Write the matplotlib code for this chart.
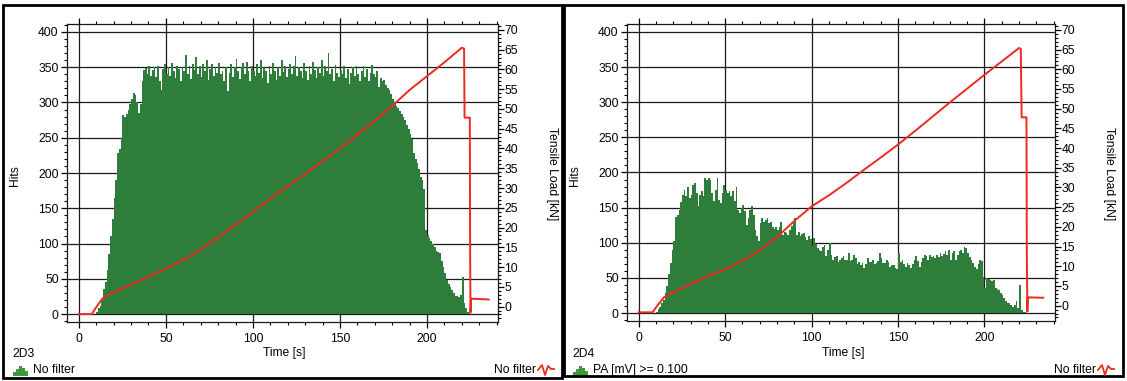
import matplotlib.pyplot as plt
from matplotlib.ticker import MultipleLocator
from matplotlib.patches import Rectangle
from matplotlib.lines import Line2D

plt.rcParams['font.family'] = ['Liberation Sans', 'DejaVu Sans']
plt.rcParams['font.size'] = 8.7

# AE hits per 1 s bin, first bin starts at t = 10 s
hits_start = 10
hits_2d3 = [
    3, 8, 12, 22, 35, 45, 62, 85, 110, 135,
    165, 190, 228, 234, 250, 282, 280, 284, 290, 298,
    305, 313, 310, 300, 285, 298, 330, 346, 349, 340,
    352, 338, 346, 350, 336, 352, 330, 318, 348, 354,
    340, 350, 338, 356, 344, 335, 352, 347, 330, 350,
    345, 368, 340, 352, 334, 355, 346, 365, 340, 352,
    336, 354, 345, 360, 332, 348, 355, 338, 350, 342,
    356, 340, 345, 330, 350, 316, 342, 355, 336, 350,
    362, 344, 333, 350, 356, 340, 358, 345, 330, 352,
    345, 338, 355, 342, 360, 335, 350, 344, 328, 352,
    340, 356, 345, 332, 350, 338, 360, 343, 352, 336,
    348, 355, 340, 352, 366, 338, 350, 344, 335, 356,
    345, 332, 352, 340, 357, 346, 335, 350, 342, 360,
    338, 352, 345, 370, 340, 348, 330, 353, 342, 336,
    346, 340, 352, 335, 348, 326, 342, 350, 338, 352,
    340, 330, 345, 352, 336, 348, 330, 342, 353, 340,
    336, 344, 322, 335, 330, 332, 325, 320, 318, 312,
    305, 300, 295, 292, 288, 284, 280, 275, 268, 262,
    255, 248, 228, 220, 214, 205, 195, 190, 178, 119,
    112, 108, 104, 100, 95, 90, 88, 86, 75, 67,
    58, 48, 42, 39, 34, 30, 25, 26, 24, 27,
    53, 15, 8, 3, 1,
]
hits_2d4 = [
    2, 6, 9, 14, 19, 28, 38, 55, 71, 90,
    102, 137, 140, 147, 158, 168, 175, 166, 180, 164,
    168, 182, 185, 171, 152, 168, 173, 166, 192, 190,
    192, 190, 171, 159, 175, 192, 161, 156, 171, 182,
    175, 171, 173, 166, 173, 160, 180, 147, 142, 150,
    154, 145, 126, 135, 147, 152, 140, 118, 110, 102,
    128, 135, 130, 133, 135, 128, 130, 123, 120, 123,
    118, 122, 130, 111, 116, 114, 111, 118, 124, 128,
    135, 111, 116, 109, 112, 114, 108, 104, 109, 106,
    95, 107, 98, 92, 90, 88, 94, 97, 81, 90,
    100, 83, 76, 80, 81, 73, 76, 78, 81, 76,
    76, 85, 74, 76, 82, 78, 70, 73, 68, 71,
    64, 70, 78, 72, 73, 76, 70, 71, 74, 85,
    78, 71, 71, 76, 72, 66, 68, 69, 64, 62,
    85, 72, 76, 70, 66, 71, 68, 64, 70, 76,
    81, 74, 66, 73, 78, 83, 81, 76, 83, 80,
    81, 78, 83, 80, 85, 81, 84, 88, 82, 90,
    76, 86, 88, 76, 82, 88, 90, 86, 94, 92,
    85, 80, 76, 71, 66, 62, 70, 76, 74, 52,
    36, 50, 48, 47, 46, 47, 36, 34, 33, 28,
    26, 22, 17, 15, 14, 11, 9, 12, 17, 7,
    40, 5, 2, 1,
]

# tensile load curves
load_time_2d3 = [0, 7.5, 9, 12, 14, 20, 30, 40, 50, 60, 70, 80, 90, 100, 110,
                 120, 130, 140, 150, 160, 170, 180, 190, 200, 210, 220, 221.3,
                 221.6, 224.6, 224.8, 225.0, 225.3, 235.5]
load_2d3 = [-1.9, -1.9, -0.8, 1.1, 2.2, 3.6, 5.6, 7.6, 9.6, 11.8, 14.4, 17.5,
            20.7, 24.0, 27.3, 30.5, 33.6, 36.8, 40.0, 43.5, 47.0, 50.8, 54.8,
            58.3, 61.8, 65.5, 65.3, 47.8, 47.8, 13.0, -1.5, 2.0, 1.8]
load_time_2d4 = [0, 8, 10.7, 13, 14.5, 20, 30, 40, 50, 60, 70, 80, 90, 100, 110,
                 120, 130, 140, 150, 160, 170, 180, 190, 200, 210, 220, 221,
                 221.5, 224.3, 224.5, 224.8, 225.1, 234]
load_2d4 = [-1.7, -1.7, 0.0, 1.2, 2.1, 3.4, 5.5, 7.5, 9.2, 11.4, 14.0, 17.4,
            21.5, 25.2, 28.0, 31.1, 34.4, 37.6, 40.9, 44.4, 48.0, 51.6, 55.1,
            58.6, 62.0, 65.4, 65.2, 47.8, 47.8, 13.0, -1.5, 2.1, 2.0]

W, H = 1127, 381
green = '#2e7d3b'
red = '#ec2a1e'


def fx(x):
    return x / W


def fy(y):
    return 1 - y / H


fig = plt.figure(figsize=(W / 100, H / 100), dpi=100)
fig.patch.set_facecolor('white')

panels = [
    # name, filter text, hits, load t, load, plot box px (l, r, t, b), x offset px
    ("2D3", "No filter", hits_2d3, load_time_2d3, load_2d3, (67, 498, 24, 322), 0),
    ("2D4", "PA [mV] >= 0.100", hits_2d4, load_time_2d4, load_2d4, (627, 1055, 24, 321), 560),
]

for name, filt, hits, lt, ld, (l, r, t, b), off in panels:
    ax = fig.add_axes([fx(l), fy(b), fx(r - l), (b - t) / H])
    edges = [hits_start + i for i in range(len(hits) + 1)]
    # one filled step outline, so no seams between the 1 s bins
    ax.stairs(hits, edges, fill=True, color=green, linewidth=0, zorder=2)
    ax.set_xlim(-6.8, 240.8)
    ax.set_ylim(-11.3, 411.3)
    ax.set_axisbelow(True)
    ax.grid(True, which='major', color='#1a1a1a', linewidth=0.9)
    ax.xaxis.set_major_locator(MultipleLocator(50))
    ax.xaxis.set_minor_locator(MultipleLocator(10))
    ax.yaxis.set_major_locator(MultipleLocator(50))
    ax.yaxis.set_minor_locator(MultipleLocator(10))
    ax.tick_params(which='major', direction='out', length=4, width=0.9, pad=2,
                   top=True, labeltop=False, right=False)
    ax.tick_params(which='minor', direction='out', length=2.5, width=0.8,
                   top=True, right=False)
    ax.tick_params(axis='x', which='major', pad=4)
    for s in ax.spines.values():
        s.set_color('#1a1a1a')
        s.set_linewidth(0.9)

    ax2 = ax.twinx()
    ax2.plot(lt, ld, color=red, linewidth=1.4, zorder=3)
    ax2.set_ylim(-3.9, 71.5)
    ax2.yaxis.set_major_locator(MultipleLocator(5))
    ax2.yaxis.set_minor_locator(MultipleLocator(1))
    ax2.tick_params(which='major', direction='out', length=4, width=0.9, pad=0.5)
    ax2.tick_params(which='minor', direction='out', length=2.5, width=0.8)
    for s in ax2.spines.values():
        s.set_visible(False)

    # axis titles
    fig.text(fx(l - 52), fy(176), "Hits", rotation=90, ha='center', va='center')
    fig.text(fx(r + 54), fy(174), "Tensile Load [kN]", rotation=270,
             ha='center', va='center')
    fig.text(fx((l + r) / 2 + 2), fy(353), "Time [s]", ha='center', va='center')

    # channel and filter captions
    fig.text(fx(off + 12), fy(354), name, ha='left', va='center')
    fig.text(fx(off + 33), fy(370), filt, ha='left', va='center')
    fig.text(fx(off + 536), fy(370), "No filter", ha='right', va='center')

    # small legend icons
    for k, hgt in enumerate([4, 7, 10, 8, 5]):
        fig.add_artist(Rectangle((fx(off + 13 + k * 3), fy(376)), fx(2.6), hgt / H,
                                 facecolor='#3c9a3c', edgecolor='none'))
    wx = [off + 538, off + 542, off + 545, off + 548, off + 551, off + 554]
    wy = [370, 365, 375, 366, 369, 369]
    fig.add_artist(Line2D([fx(v) for v in wx], [fy(v) for v in wy],
                          color=red, linewidth=1.3))

# outer frames of the two screenshots
fig.add_artist(Rectangle((fx(3), fy(378)), fx(559), (378 - 5) / H,
                         facecolor='none', edgecolor='black', linewidth=2))
fig.add_artist(Rectangle((fx(564), fy(376)), fx(559), (376 - 5) / H,
                         facecolor='none', edgecolor='black', linewidth=2))

plt.savefig("out.png", dpi=100)
